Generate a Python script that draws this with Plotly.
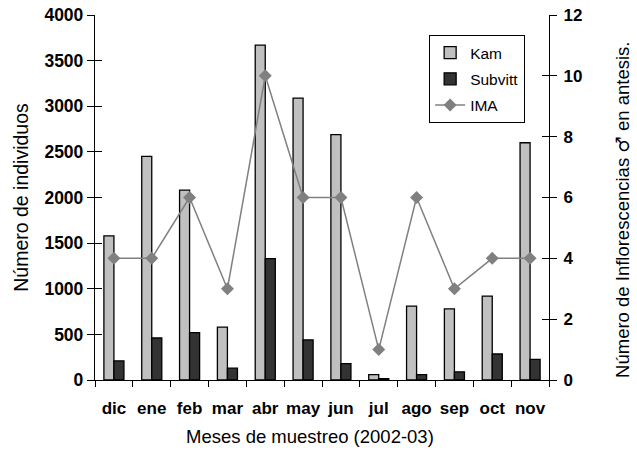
import plotly.graph_objects as go

months = ["dic", "ene", "feb", "mar", "abr", "may", "jun", "jul", "ago", "sep", "oct", "nov"]
kam = [1580, 2450, 2080, 580, 3670, 3090, 2690, 60, 810, 780, 920, 2600]
subvitt = [210, 460, 520, 130, 1330, 440, 180, 15, 60, 90, 285, 225]
ima = [4, 4, 6, 3, 10, 6, 6, 1, 6, 3, 4, 4]

FONT = "Liberation Sans, Arial, sans-serif"

fig = go.Figure()
fig.add_trace(go.Bar(x=months, y=kam, name="Kam", legendgroup="a",
                     marker=dict(color="#c0c0c0", line=dict(color="black", width=1.3))))
fig.add_trace(go.Bar(x=months, y=subvitt, name="Subvitt", legendgroup="b",
                     marker=dict(color="#333333", line=dict(color="black", width=1.3))))
fig.add_trace(go.Scatter(x=months, y=ima, name="IMA", yaxis="y2", mode="lines+markers",
                         legendgroup="c",
                         line=dict(color="#808080", width=1.5),
                         marker=dict(symbol="diamond", size=10, color="#808080")))
# invisible helper traces so the inside-tick overlay axes get drawn
fig.add_trace(go.Scatter(x=months, y=[None] * 12, yaxis="y3", showlegend=False, hoverinfo="skip"))
fig.add_trace(go.Scatter(x=months, y=[None] * 12, yaxis="y4", showlegend=False, hoverinfo="skip"))

fig.update_layout(
    width=637, height=451,
    margin=dict(l=95, r=88, t=15, b=71),
    paper_bgcolor="white", plot_bgcolor="white",
    barmode="group", bargap=0.47, bargroupgap=0,
    font=dict(family=FONT, color="black"),
    showlegend=True,
    legend=dict(x=0.736, y=0.945, xanchor="left", yanchor="top",
                bordercolor="black", borderwidth=1, bgcolor="white",
                font=dict(size=15.5, family=FONT), tracegroupgap=3,
                traceorder="grouped"),
    xaxis=dict(range=[-0.5, 11.5], showline=True, linecolor="black", linewidth=1.3,
               ticks="outside", tickson="boundaries", ticklen=6, tickcolor="black",
               tickangle=0, automargin=False, ticklabelstandoff=12,
               tickfont=dict(size=17, family=FONT, weight="bold"),
               showgrid=False, zeroline=False),
    yaxis=dict(range=[0, 4000], dtick=500, showline=True, linecolor="black", linewidth=1.3,
               ticks="outside", ticklen=7, tickcolor="black", automargin=False,
               tickfont=dict(size=17.5, family=FONT, weight="bold"),
               title=dict(text="Número de individuos", font=dict(size=19.5), standoff=10),
               showgrid=False, zeroline=False),
    yaxis2=dict(range=[0, 12], dtick=2, overlaying="y", side="right", showline=True,
                linecolor="black", linewidth=1.3, ticks="outside", ticklen=7, tickcolor="black",
                automargin=False, ticklabelstandoff=3,
                tickfont=dict(size=17, family=FONT, weight="bold"),
                showgrid=False, zeroline=False),
    yaxis3=dict(range=[0, 4000], dtick=500, overlaying="y", side="left", showline=False,
                ticks="inside", ticklen=7, tickcolor="black", showticklabels=False,
                automargin=False, showgrid=False, zeroline=False),
    yaxis4=dict(range=[0, 12], dtick=2, overlaying="y", side="right", showline=False,
                ticks="inside", ticklen=7, tickcolor="black", showticklabels=False,
                automargin=False, showgrid=False, zeroline=False),
    annotations=[
        dict(text="Meses de muestreo (2002-03)", xref="paper", yref="paper",
             x=0.474, y=-0.156, xanchor="center", yanchor="middle", showarrow=False,
             font=dict(size=18.5, family=FONT)),
        dict(text="Número de Inflorescencias <span style=\"font-family:DejaVu Sans\">♂</span> en antesis.",
             xref="paper", yref="paper", x=1.163, y=0.466, xanchor="center", yanchor="middle",
             textangle=-90, showarrow=False, borderpad=0, font=dict(size=18.5, family=FONT)),
    ],
)

fig.write_html("out.html", config={"displayModeBar": False},
               post_script="document.body.style.margin='0';document.body.style.overflow='hidden';")
